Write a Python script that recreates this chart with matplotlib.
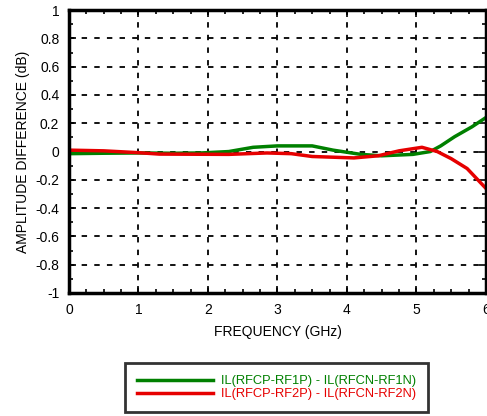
import numpy as np
import matplotlib.pyplot as plt
from matplotlib.ticker import MultipleLocator

freq_rf1 = [0, 0.5, 1, 1.5, 1.9, 2.3, 2.65, 3.0, 3.5, 3.8, 4.2, 4.5, 4.95, 5.2, 5.35, 5.55, 5.8, 6]
diff_rf1 = [-0.015, -0.012, -0.01, -0.012, -0.01, 0.0, 0.03, 0.04, 0.04, 0.01, -0.02, -0.03, -0.02, 0.0, 0.04, 0.105, 0.175, 0.24]
freq_rf2 = [0, 0.5, 1, 1.3, 2.3, 2.85, 3.2, 3.5, 4.1, 4.45, 4.75, 5.08, 5.3, 5.5, 5.73, 6]
diff_rf2 = [0.01, 0.005, -0.008, -0.018, -0.02, -0.01, -0.015, -0.035, -0.045, -0.03, 0.005, 0.03, 0.0, -0.05, -0.12, -0.26]
labels = ['IL(RFCP-RF1P) - IL(RFCN-RF1N)', 'IL(RFCP-RF2P) - IL(RFCN-RF2N)']
colors = ['#008000', '#e60000']


def main():
    plt.rcParams['font.family'] = ['Liberation Sans', 'DejaVu Sans']
    fig = plt.figure(figsize=(4.87, 4.16), dpi=100)
    ax = fig.add_axes([0.1417, 0.2957, 0.856, 0.68])

    ax.plot(freq_rf1, diff_rf1, color=colors[0], lw=2.5, label=labels[0])
    ax.plot(freq_rf2, diff_rf2, color=colors[1], lw=2.5, label=labels[1])

    ax.set_xlim(0, 6)
    ax.set_ylim(-1, 1)
    ax.xaxis.set_major_locator(MultipleLocator(1))
    ax.xaxis.set_minor_locator(MultipleLocator(0.25))
    ax.yaxis.set_minor_locator(MultipleLocator(0.1))
    ax.set_yticks(np.arange(-1, 1.01, 0.2))
    ax.set_yticklabels(['-1', '-0.8', '-0.6', '-0.4', '-0.2', '0', '0.2', '0.4', '0.6', '0.8', '1'])
    ax.tick_params(which='both', direction='in', top=True, right=True, labelsize=10, pad=7)
    ax.tick_params(which='major', length=5, width=1.2)
    ax.tick_params(which='minor', length=3, width=1.2)
    ax.grid(True, which='major', color='black', linestyle=(0, (3, 4)), lw=1.3)
    for s in ax.spines.values():
        s.set_linewidth(2.5)

    ax.set_xlabel('FREQUENCY (GHz)', fontsize=10, labelpad=6)
    ax.set_ylabel('AMPLITUDE DIFFERENCE (dB)', fontsize=10, labelpad=4)

    leg = fig.legend(loc='center', bbox_to_anchor=(0.568, 0.068), fontsize=9.3,
                     frameon=True, fancybox=False, edgecolor='black',
                     handlelength=5.9, handletextpad=0.6, borderpad=0.9, labelspacing=0.1)
    leg.get_frame().set_linewidth(2)
    for t, c in zip(leg.get_texts(), colors):
        t.set_color(c)

    fig.savefig('out.png', dpi=100)


if __name__ == '__main__':
    main()
